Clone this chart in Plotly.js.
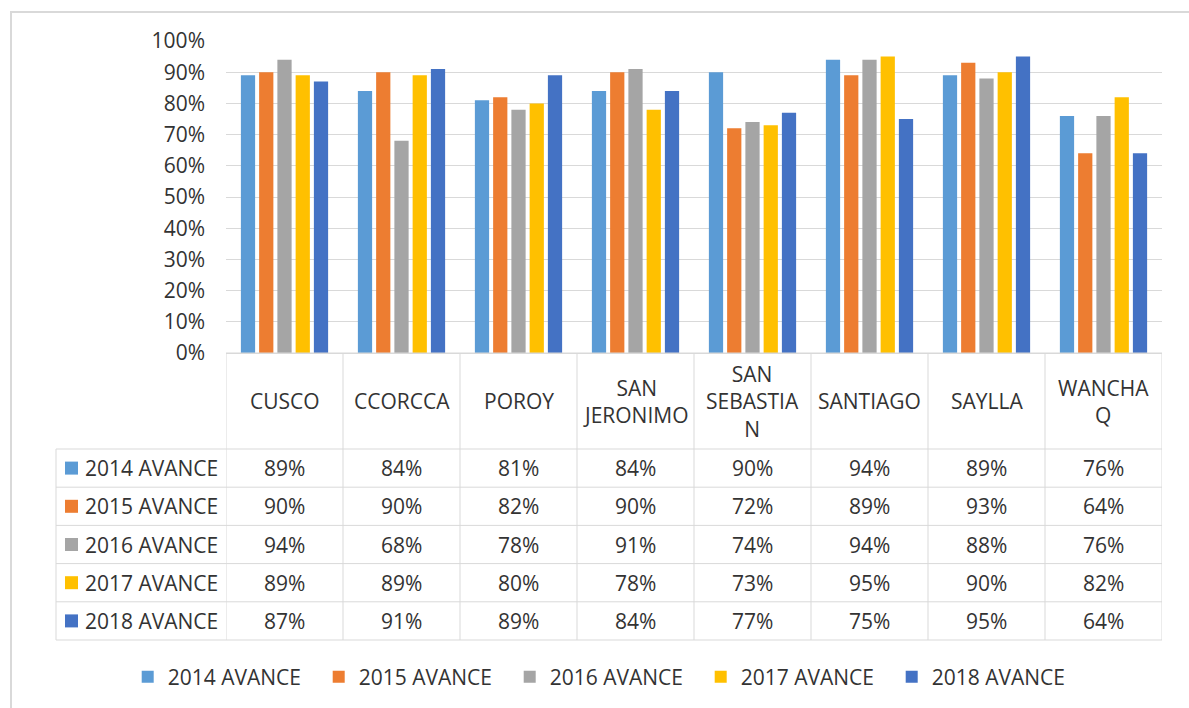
<!DOCTYPE html>
<html>
<head>
<meta charset="utf-8">
<script src="https://cdn.plot.ly/plotly-3.0.1.min.js"></script>
<style>html,body{margin:0;padding:0;background:#fff;}#chart{width:1189px;height:708px;}</style>
</head>
<body>
<div id="chart"></div>
<script>
// ---- data ----
const categories = ['CUSCO','CCORCCA','POROY','SAN JERONIMO','SAN SEBASTIAN','SANTIAGO','SAYLLA','WANCHAQ'];
const headerLabels = ['CUSCO','CCORCCA','POROY','SAN<br>JERONIMO','SAN<br>SEBASTIA<br>N','SANTIAGO','SAYLLA','WANCHA<br>Q'];
const seriesNames = ['2014 AVANCE','2015 AVANCE','2016 AVANCE','2017 AVANCE','2018 AVANCE'];
const avance2014 = [0.89,0.84,0.81,0.84,0.90,0.94,0.89,0.76];
const avance2015 = [0.90,0.90,0.82,0.90,0.72,0.89,0.93,0.64];
const avance2016 = [0.94,0.68,0.78,0.91,0.74,0.94,0.88,0.76];
const avance2017 = [0.89,0.89,0.80,0.78,0.73,0.95,0.90,0.82];
const avance2018 = [0.87,0.91,0.89,0.84,0.77,0.75,0.95,0.64];
const seriesValues = [avance2014,avance2015,avance2016,avance2017,avance2018];
const colors = ['#5B9BD5','#ED7D31','#A5A5A5','#FFC000','#4472C4'];
const yTickVals = [0,0.1,0.2,0.3,0.4,0.5,0.6,0.7,0.8,0.9,1.0];
const yTickText = ['0%','10%','20%','30%','40%','50%','60%','70%','80%','90%','100%'];

// ---- layout helpers ----
const W = 1189, H = 708;
const px = x => x / W;
const py = y => 1 - y / H;
const FONT = 'Open Sans, Noto Sans, sans-serif';
const FS = 21;
const TXT = '#333333';
const GRID = '#D9D9D9';

const traces = seriesNames.map((n, i) => ({
  type: 'bar', name: n, x: categories, y: seriesValues[i],
  marker: {color: colors[i]}, hoverinfo: 'x+y+name'
}));

const shapes = [];
const annotations = [];
// outer border (top/left visible)
shapes.push({type:'rect', xref:'paper', yref:'paper', x0:px(11), x1:px(1200), y0:py(12), y1:py(720),
  line:{color:'#D9D9D9', width:2}, fillcolor:'rgba(0,0,0,0)'});

const tableTop = 353, headerBottom = 449, rowH = (640 - 449) / 5, tableBottom = 640;
const leftX = 56, divX = 226, rightX = 1162;
// horizontal table lines
shapes.push({type:'line', xref:'paper', yref:'paper', x0:px(divX), x1:px(rightX), y0:py(tableTop), y1:py(tableTop), line:{color:GRID,width:1}});
for (let r = 0; r <= 5; r++) {
  const y = headerBottom + r * rowH;
  shapes.push({type:'line', xref:'paper', yref:'paper', x0:px(leftX), x1:px(rightX), y0:py(y), y1:py(y), line:{color:GRID,width:1}});
}
// vertical table lines at category boundaries
for (let i = 0; i <= categories.length; i++) {
  shapes.push({type:'line', xref:'x', yref:'paper', x0:i-0.5, x1:i-0.5, y0:py(tableTop), y1:py(tableBottom), line:{color:GRID,width:1}});
}
shapes.push({type:'line', xref:'paper', yref:'paper', x0:px(leftX), x1:px(leftX), y0:py(headerBottom), y1:py(tableBottom), line:{color:GRID,width:1}});

// header labels
categories.forEach((c, i) => {
  annotations.push({xref:'x', yref:'paper', x:c, y:py((tableTop + headerBottom) / 2), text:headerLabels[i],
    showarrow:false, xanchor:'center', yanchor:'middle', font:{family:FONT,size:FS,color:TXT}});
});
// rows
seriesNames.forEach((n, s) => {
  const yc = headerBottom + (s + 0.5) * rowH;
  shapes.push({type:'rect', xref:'paper', yref:'paper', x0:px(65), x1:px(78), y0:py(yc - 6.5), y1:py(yc + 6.5),
    line:{width:0}, fillcolor:colors[s]});
  annotations.push({xref:'paper', yref:'paper', x:px(83), y:py(yc), text:n, showarrow:false,
    xanchor:'left', yanchor:'middle', font:{family:FONT,size:FS,color:TXT}});
  categories.forEach((c, i) => {
    annotations.push({xref:'x', yref:'paper', x:c, y:py(yc), text:Math.round(seriesValues[s][i]*100)+'%',
      showarrow:false, xanchor:'center', yanchor:'middle', font:{family:FONT,size:FS,color:TXT}});
  });
});

const layout = {
  width: W, height: H,
  margin: {l:0, r:0, t:0, b:0},
  paper_bgcolor: '#fff', plot_bgcolor: '#fff',
  barmode: 'group', bargap: 0.22, bargroupgap: 0.22,
  showlegend: true,
  legend: {orientation:'h', x:0.509, xanchor:'center', y:py(677), yanchor:'middle',
    font:{family:FONT,size:FS,color:TXT}, itemwidth:30, entrywidth:146, traceorder:'normal'},
  xaxis: {domain:[px(divX), px(rightX)], type:'category', range:[-0.5, categories.length - 0.5],
    showticklabels:false, showgrid:false, zeroline:false, showline:false, ticks:'', fixedrange:true},
  yaxis: {domain:[py(tableTop), py(41)], range:[0,1], tickvals:yTickVals, ticktext:yTickText,
    showgrid:true, gridcolor:GRID, gridwidth:1, zeroline:true, zerolinecolor:GRID, zerolinewidth:1,
    showline:false, ticks:'', ticklabelstandoff:20,
    tickfont:{family:FONT,size:FS,color:TXT}, fixedrange:true},
  shapes: shapes,
  annotations: annotations
};

Plotly.newPlot('chart', traces, layout, {displayModeBar:false, staticPlot:true});
</script>
</body>
</html>
